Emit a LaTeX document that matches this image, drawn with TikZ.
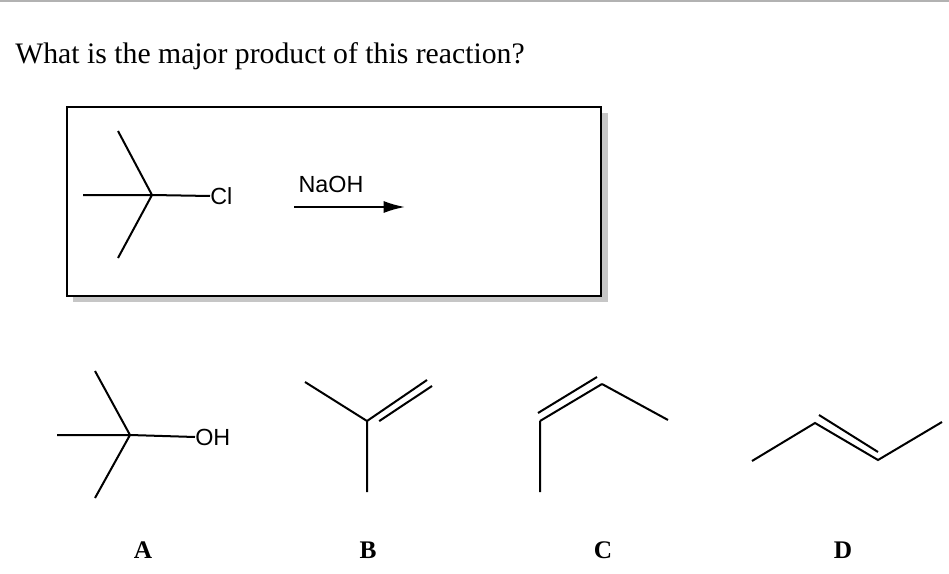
\documentclass[tikz,border=0pt]{standalone}
\usepackage{fontspec}
\usetikzlibrary{arrows.meta,calc}
\setmainfont{Liberation Serif}
\newfontfamily\chemfont{Liberation Sans}
\begin{document}
\begin{tikzpicture}[x=0.75pt,y=-0.75pt,
  bond/.style={line width=1.5pt},
  lbl/.style={font=\chemfont\fontsize{17.5}{17.5}\selectfont, inner sep=0pt},
  choice/.style={font=\bfseries\fontsize{19}{19}\selectfont, inner sep=0pt}]
\useasboundingbox (0,0) rectangle (949,574);
\draw[gray!60, line width=1pt] (0,1) -- (949,1);
\node[anchor=base west, inner sep=0pt, font=\fontsize{22.3}{24}\selectfont] (q) at (15,64) {What is the major product of this reaction?};
% box
\fill[gray!45] (73,113) rectangle (608,302);
\draw[fill=white, line width=1.5pt] (67,107) rectangle (601,296);
% reactant
\coordinate (c1) at (152,195);
\coordinate (c1u) at (118,131);
\coordinate (c1d) at (118,258);
\coordinate (c1l) at (83,195);
\node[lbl, anchor=west] (cl) at (210,196) {Cl};
\draw[bond] (c1) -- (c1u) (c1) -- (c1d) (c1) -- (c1l) (c1) -- (cl.west);
\node[lbl, anchor=base] (naoh) at (331,192) {NaOH};
\coordinate (a1) at (294,207);
\coordinate (a2) at (405,207);
\draw[line width=1.4pt, -{Latex[length=16pt,width=9pt]}] (a1) -- (a2);
% A
\coordinate (A) at (130,435);
\coordinate (Au) at (95,371);
\coordinate (Ad) at (95,498);
\coordinate (Al) at (57,435);
\node[lbl, anchor=west] (oh) at (195,437) {OH};
\draw[bond] (A) -- (Au) (A) -- (Ad) (A) -- (Al) (A) -- (oh.west);
% B
\coordinate (B) at (367,421);
\coordinate (Bl) at (305,382);
\coordinate (Br) at (427,380);
\coordinate (Bd) at (367,492);
\draw[bond] (B) -- (Bl) (B) -- (Br) (B) -- (Bd);
\draw[bond] ($(B)!0.12!(Br)+(5,5)$) -- ($(Br)+(5,6)$);
% C
\coordinate (C) at (540,421);
\coordinate (Cd) at (540,492);
\coordinate (Cu) at (602,384);
\coordinate (Cr) at (668,420);
\draw[bond] (C) -- (Cd) (C) -- (Cu) (Cu) -- (Cr);
\draw[bond] ($(C)+(-2,-8)$) -- ($(Cu)+(-5,-7)$);
% D
\coordinate (D1) at (752,461);
\coordinate (D2) at (815,423);
\coordinate (D3) at (878,460);
\coordinate (D4) at (942,422);
\draw[bond] (D1) -- (D2) -- (D3) -- (D4);
\draw[bond] ($(D2)+(4,-8)$) -- ($(D3)+(0,-8)$);
% labels
\node[choice] (la) at (143,550) {A};
\node[choice] (lb) at (368,550) {B};
\node[choice] (lc) at (603,550) {C};
\node[choice] (ld) at (843,550) {D};
\end{tikzpicture}
\end{document}
